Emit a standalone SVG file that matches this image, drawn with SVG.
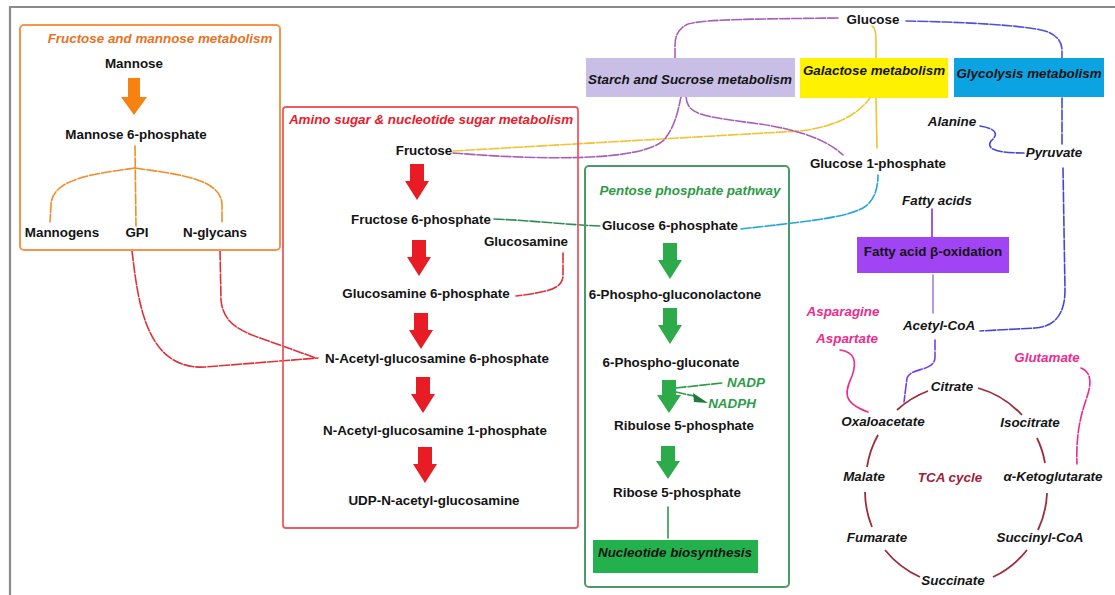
<svg xmlns="http://www.w3.org/2000/svg" xmlns:xlink="http://www.w3.org/1999/xlink" width="1115" height="595" viewBox="0 0 1115 595">
<style>
text{font-family:"Liberation Sans",Arial,sans-serif;font-size:13.4px;font-weight:bold;text-anchor:middle;fill:#141414}
.it{font-style:italic}
.ttl{font-style:italic}
.pink{fill:#EE2A8C;font-style:italic}
.con{fill:none;stroke-width:1.6;stroke-linecap:round}
.dash{stroke-dasharray:10 2}
.tca{fill:none;stroke:#9E2B3E;stroke-width:1.8}
</style>
<defs>
<path id="darrow" d="M-7,0 H7 V17 H12 L0,36 L-12,17 H-7 Z"/>
<path id="darrow-s" d="M-7,0 H7 V15 H12 L0,33 L-12,15 H-7 Z"/>
</defs>
<rect width="1115" height="595" fill="#fff"/>
<path d="M10,595 V7 H1115" fill="none" stroke="#8a8a8a" stroke-width="2.2"/>

<g id="connectors">
  <path class="con dash" stroke="#F28C28" d="M135,146 L136,226"/>
  <path class="con dash" stroke="#F28C28" d="M135,168 C95,174 52,178 51,205 L50,222"/>
  <path class="con dash" stroke="#F28C28" d="M135,168 C175,174 222,178 222,205 L222,222"/>
  <path class="con dash" stroke="#E0303A" d="M132,251 C138,300 145,370 205,367 L318,358"/>
  <path class="con dash" stroke="#E0303A" d="M220,250 L221,300 C223,322 238,330 260,338 L316,358"/>
  <path class="con dash" stroke="#E0303A" d="M563,253 L563,275 C563,290 545,292 516,296"/>
  <path class="con dash" stroke="#A85DBB" d="M838,18 C760,19 705,19 688,24 Q675,30 675,45 L675,58"/>
  <path class="con dash" stroke="#5050E0" d="M906,21 C960,22 1030,25 1048,32 Q1062,38 1062,50 L1062,58"/>
  <path class="con" stroke="#F2C230" d="M872,26 Q876,28 876,40 L876,58"/>
  <path class="con" stroke="#F2C230" d="M876,98 L877,148"/>
  <path class="con dash" stroke="#F2C230" d="M453,151 L800,131 Q850,125 870,98"/>
  <path class="con dash" stroke="#A85DBB" d="M453,153 C540,160 640,162 664,140 C676,125 678,110 681,97"/>
  <path class="con dash" stroke="#A85DBB" d="M686,97 C688,115 700,116 760,124 Q820,133 843,155"/>
  <path class="con dash" stroke="#2E8B57" d="M494,219 C540,221 570,225 600,226"/>
  <path class="con dash" stroke="#22A5E2" d="M741,229 C800,222 850,218 866,206 Q878,196 878,175"/>
  <path class="con dash" stroke="#4545DD" d="M980,126 C998,129 998,135 991,141 C985,150 1000,153 1024,153"/>
  <path class="con dash" stroke="#4545DD" d="M1062,98 L1062,146"/>
  <path class="con dash" stroke="#4545DD" d="M1063,168 L1065,290 Q1065,326 1035,328 L980,331"/>
  <path class="con" stroke="#8A2BE2" stroke-width="2" d="M932,209 L932,237"/>
  <path class="con" stroke="#A07FE8" stroke-width="2" d="M933,275 L933,313"/>
  <path class="con dash" stroke="#7A3CEB" d="M935,340 L935,357 C935,372 911,367 907,378 L904,402"/>
  <path class="con" stroke="#EE2A8C" d="M840,350 C855,352 857,362 852,376 C846,390 840,402 868,412"/>
  <path class="con dash" stroke="#EE2A8C" d="M1081,368 C1093,373 1091,386 1086,400 C1079,420 1076,440 1077,464"/>
  <path class="con" stroke="#2E9B47" d="M668,507 L668,538"/>
  <path class="con dash" stroke="#2E9B47" d="M676,388 L722,383"/>
  <path class="con dash" stroke="#2E9B47" d="M676,392 L694,396"/>
  <path d="M693,393 L694,402 L708,403 Z" fill="#1E7B3A"/>
  <path class="tca" d="M897,410 A95,95 0 0 1 928,391"/>
  <path class="tca" d="M978,388 A95,95 0 0 1 1022,415"/>
  <path class="tca" d="M1037,438 A95,95 0 0 1 1045,463"/>
  <path class="tca" d="M1047,493 A95,95 0 0 1 1038,530"/>
  <path class="tca" d="M1027,550 A95,95 0 0 1 993,577"/>
  <path class="tca" d="M920,577 A95,95 0 0 1 885,550"/>
  <path class="tca" d="M872,527 A95,95 0 0 1 865,492"/>
  <path class="tca" d="M867,467 A95,95 0 0 1 878,435"/>
</g>

<g id="fructose-mannose">
  <rect x="20" y="25" width="260" height="225" rx="4" fill="none" stroke="#F5944A" stroke-width="2"/>
  <text x="160" y="43" class="ttl" style="fill:#E8731E">Fructose and mannose metabolism</text>
</g>
<g id="mannose"><text x="134" y="68">Mannose</text></g>
<path id="mannose-arrow" d="M128,78 H140 V97 H147 L134,115 L121,97 H128 Z" fill="#F7820F"/>
<g id="mannose-6p"><text x="136" y="139">Mannose 6-phosphate</text></g>
<g id="mannogens"><text x="62" y="237">Mannogens</text></g>
<g id="gpi"><text x="137" y="237">GPI</text></g>
<g id="n-glycans"><text x="215" y="237">N-glycans</text></g>

<g id="amino-sugar">
  <rect x="283" y="107" width="295" height="421" rx="3" fill="none" stroke="#EC5A64" stroke-width="1.8"/>
  <text x="431" y="124" class="ttl" style="fill:#E81C2C">Amino sugar &amp; nucleotide sugar metabolism</text>
</g>
<g id="fructose"><text x="424" y="155">Fructose</text></g>
<g id="red-arrows" fill="#E81C24">
  <use xlink:href="#darrow" x="417" y="164"/>
  <use xlink:href="#darrow" x="419" y="240"/>
  <use xlink:href="#darrow" x="421" y="313"/>
  <use xlink:href="#darrow" x="423" y="377"/>
  <use xlink:href="#darrow" x="425" y="447"/>
</g>
<g id="fructose-6p"><text x="421" y="224">Fructose 6-phosphate</text></g>
<g id="glucosamine"><text x="526" y="246">Glucosamine</text></g>
<g id="glucosamine-6p"><text x="426" y="298">Glucosamine 6-phosphate</text></g>
<g id="glcnac-6p"><text x="437" y="363">N-Acetyl-glucosamine 6-phosphate</text></g>
<g id="glcnac-1p"><text x="435" y="435">N-Acetyl-glucosamine 1-phosphate</text></g>
<g id="udp-glcnac"><text x="434" y="505">UDP-N-acetyl-glucosamine</text></g>

<g id="pentose">
  <rect x="585" y="166" width="204" height="421" rx="4" fill="none" stroke="#4C9A6A" stroke-width="2"/>
  <text x="690" y="195" class="ttl" style="fill:#2E9B47">Pentose phosphate pathway</text>
</g>
<g id="green-arrows" fill="#2DAA4A">
  <use xlink:href="#darrow" x="670" y="243"/>
  <use xlink:href="#darrow" x="670" y="308"/>
  <use xlink:href="#darrow-s" x="669" y="380"/>
  <use xlink:href="#darrow-s" x="668" y="446"/>
</g>
<g id="glucose-6p"><text x="670" y="230">Glucose 6-phosphate</text></g>
<g id="phosphogluconolactone"><text x="675" y="299">6-Phospho-gluconolactone</text></g>
<g id="phosphogluconate"><text x="671" y="367">6-Phospho-gluconate</text></g>
<g id="nadp"><text x="746" y="387" class="it" style="fill:#2E9B47">NADP</text></g>
<g id="nadph"><text x="732" y="408" class="it" style="fill:#2E9B47">NADPH</text></g>
<g id="ribulose-5p"><text x="684" y="430">Ribulose 5-phosphate</text></g>
<g id="ribose-5p"><text x="677" y="497">Ribose 5-phosphate</text></g>
<g id="nucleotide">
  <rect x="593" y="540" width="165" height="33" fill="#22B14C"/>
  <text x="675" y="557" class="it">Nucleotide biosynthesis</text>
</g>

<g id="glucose"><text x="873" y="24">Glucose</text></g>
<g id="starch">
  <rect x="586" y="58" width="209" height="39" fill="#C8BEE6"/>
  <text x="690" y="84" class="it">Starch and Sucrose metabolism</text>
</g>
<g id="galactose">
  <rect x="800" y="58" width="148" height="40" fill="#FFF200"/>
  <text x="874" y="75" class="it">Galactose metabolism</text>
</g>
<g id="glycolysis">
  <rect x="954" y="58" width="150" height="39" fill="#0CA3E3"/>
  <text x="1029" y="78" class="it">Glycolysis metabolism</text>
</g>
<g id="glucose-1p"><text x="878" y="168">Glucose 1-phosphate</text></g>
<g id="alanine"><text x="952" y="126" class="it">Alanine</text></g>
<g id="pyruvate"><text x="1054" y="157" class="it">Pyruvate</text></g>
<g id="fatty-acids"><text x="937" y="205" class="it">Fatty acids</text></g>
<g id="beta-oxidation">
  <rect x="857" y="237" width="152" height="36" fill="#A044F4"/>
  <text x="933" y="256">Fatty acid β-oxidation</text>
</g>
<g id="acetyl-coa"><text x="939" y="330" class="it">Acetyl-CoA</text></g>
<g id="asparagine"><text x="843" y="316" class="pink">Asparagine</text></g>
<g id="aspartate"><text x="847" y="343" class="pink">Aspartate</text></g>
<g id="glutamate"><text x="1047" y="362" class="pink">Glutamate</text></g>
<g id="citrate"><text x="952" y="391" class="it">Citrate</text></g>
<g id="oxaloacetate"><text x="883" y="426" class="it">Oxaloacetate</text></g>
<g id="isocitrate"><text x="1030" y="427" class="it">Isocitrate</text></g>
<g id="malate"><text x="864" y="481" class="it">Malate</text></g>
<g id="tca-label"><text x="950" y="482" class="it" style="fill:#A0203A">TCA cycle</text></g>
<g id="alpha-kg"><text x="1053" y="481" class="it">α-Ketoglutarate</text></g>
<g id="fumarate"><text x="877" y="542" class="it">Fumarate</text></g>
<g id="succinyl-coa"><text x="1040" y="542" class="it">Succinyl-CoA</text></g>
<g id="succinate"><text x="953" y="585" class="it">Succinate</text></g>
</svg>
